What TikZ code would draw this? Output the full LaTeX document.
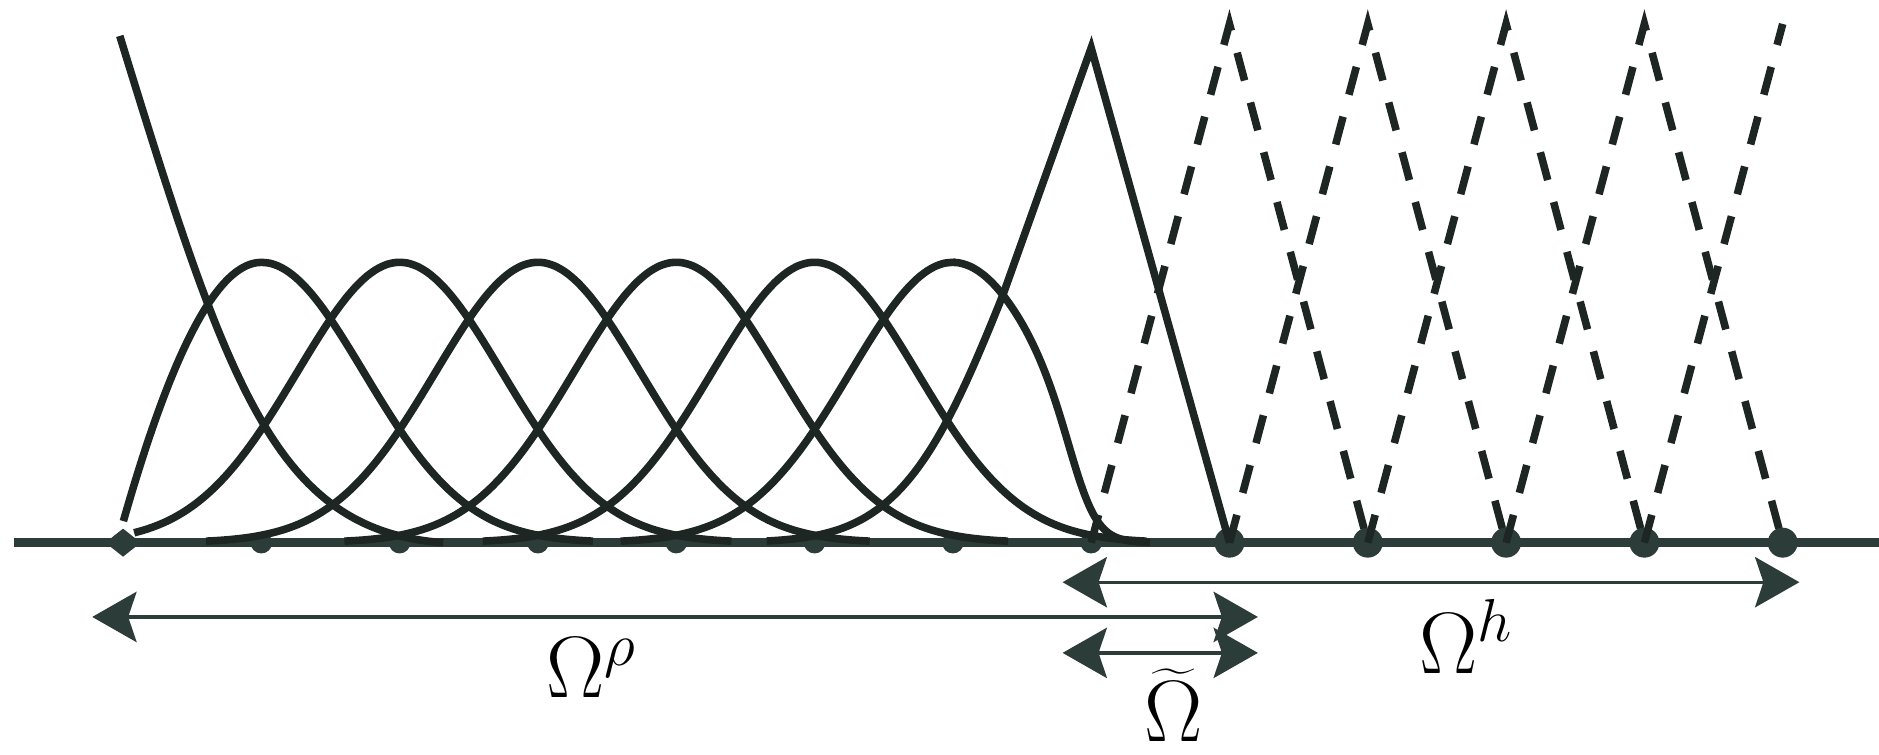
\documentclass[tikz,border=0pt]{standalone}
\usetikzlibrary{arrows.meta,shapes.geometric}
\definecolor{inkc}{RGB}{30,38,36}
\definecolor{slate}{RGB}{44,60,57}

\begin{document}
\begin{tikzpicture}[scale=1.0,
  axisline/.style={draw=slate,line width=2.1pt},
  curve/.style={draw=inkc,line width=1.8pt},
  fehat/.style={draw=inkc,line width=1.8pt,dash pattern=on 0.24cm off 0.19cm},
  span/.style={draw=slate,line width=0.8pt,>={Stealth[length=0.37cm,width=0.42cm,inset=0.07cm]},<->},
  edot/.style={diamond,fill=slate,inner sep=0pt,minimum width=0.30cm,minimum height=0.24cm},
  pdot/.style={circle,fill=slate,inner sep=0pt,minimum size=0.18cm},
  fdot/.style={circle,fill=slate,inner sep=0pt,minimum size=0.25cm},
  lbl/.style={font=\fontsize{20.74}{25}\selectfont,inner sep=0pt,anchor=base},
  declare function={bellf(\x,\c)=2.34*exp(-((\x-\c)*(\x-\c))/1.469);
                    cutf(\x)=1/(1+exp((\x-9.0)/0.12));}]
\useasboundingbox (0,-1.77) rectangle (15.685,4.53);

\coordinate (lend) at (0.12,0);
\coordinate (rend) at (15.685,0);
\draw[axisline] (lend) -- (rend);

\node[edot] (p1) at (1.027,0) {};
\foreach \k in {2,...,8}
  \node[pdot] (p\k) at ({1.027+(\k-1)*1.1545},0) {};
\foreach \k in {9,...,13}
  \node[fdot] (p\k) at ({1.027+(\k-1)*1.1545},0) {};

\draw[curve] (1.0,4.23) .. controls (1.9,1.3) and (2.3,0.1) .. (3.7,0);
\draw[curve] (1.03,0.18) .. controls (1.35,1.3) and (1.75,2.34) .. (2.1815,2.34)
  -- plot[domain=2.1815:4.95,samples=40,smooth] (\x,{bellf(\x,2.1815)});
\foreach \k in {3,...,6}{
  \pgfmathsetmacro\c{1.027+(\k-1)*1.1545}
  \pgfmathsetmacro\lo{max(1.12,\c-2.77)}
  \pgfmathsetmacro\hi{\c+2.77}
  \draw[curve] plot[domain=\lo:\hi,samples=60,smooth] (\x,{bellf(\x,\c)});
}
\draw[curve] plot[domain=5.18:7.954,samples=40,smooth] (\x,{bellf(\x,7.954)})
  -- plot[domain=7.954:9.6,samples=40,smooth] (\x,{bellf(\x,7.954)*cutf(\x)});
\draw[curve] plot[domain=6.4:8.37,samples=40,smooth] (\x,{3.5*exp(-((\x-9.25)*(\x-9.25))/1.464)})
  -- ([yshift=4.13cm]p8.center) -- (p9.center);

\foreach \k [evaluate=\k as \l using int(\k-1), evaluate=\k as \r using int(\k+1)] in {9,...,12}
  \draw[fehat] (p\l.center) -- ([yshift=4.33cm]p\k.center) -- (p\r.center);
\draw[fehat] (p12.center) -- ([yshift=4.33cm]p13.center);

\coordinate (rhoL) at (0.77,-0.62);
\coordinate (rhoR) at (10.50,-0.62);
\coordinate (hL) at (8.87,-0.33);
\coordinate (hR) at (15.02,-0.33);
\coordinate (tL) at (8.87,-0.92);
\coordinate (tR) at (10.50,-0.92);
\draw[span] (rhoL) -- (rhoR);
\draw[span] (hL) -- (hR);
\draw[span] (tL) -- (tR);

\node[lbl] (lrho) at (4.94,-1.29) {$\Omega^\rho$};
\node[lbl] (lh) at (12.24,-1.09) {$\Omega^h$};
\node[lbl] (ltil) at (9.80,-1.66) {$\widetilde{\Omega}$};
\end{tikzpicture}
\end{document}
